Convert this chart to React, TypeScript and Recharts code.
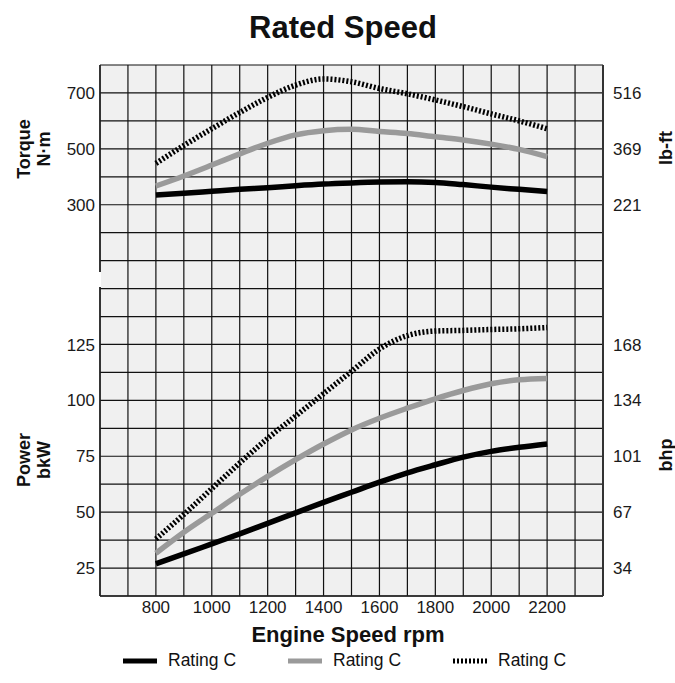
import React from 'react';
import { LineChart, Line, XAxis, YAxis, CartesianGrid, Legend } from 'recharts';

// Engine speed (rpm)
const rpm = [800, 900, 1000, 1100, 1200, 1300, 1400, 1500, 1600, 1700, 1800, 1900, 2000, 2100, 2200];
// Torque N·m
const torqueBlack = [335, 341, 348, 355, 361, 368, 374, 378, 381, 382, 380, 372, 363, 355, 347];
const torqueGrey = [367, 403, 442, 482, 520, 550, 565, 570, 562, 555, 543, 532, 517, 498, 472];
const torqueDotted = [448, 512, 572, 630, 684, 728, 750, 740, 716, 697, 675, 651, 625, 600, 572];
// Power kW
const powerBlack = [26.9, 31.3, 35.8, 40.3, 45, 49.7, 54.4, 58.9, 63.4, 67.6, 71.2, 74.6, 77.2, 79, 80.5];
const powerGrey = [31.6, 41, 49.5, 58, 66, 73.5, 80.5, 86.8, 92, 96.5, 100.7, 104.4, 107.4, 109.2, 109.8];
const powerDotted = [38, 49, 60.5, 72, 83, 93, 103, 113, 123, 129, 131, 131.3, 131.7, 132, 132.6];

// Tick labels
const xLabels = [800, 1000, 1200, 1400, 1600, 1800, 2000, 2200];
const torqueLabels = [300, 500, 700];
const lbftLabels = ['221', '369', '516'];
const powerLabels = [25, 50, 75, 100, 125];
const bhpLabels = ['34', '67', '101', '134', '168'];
const legendNames = ['Rating C', 'Rating C', 'Rating C'];

// Axis ranges (grid: 18 columns x 19 rows)
const xDomain: [number, number] = [600, 2400];
const torqueDomain: [number, number] = [-1100, 800];
const powerDomain: [number, number] = [12.5, 250];

const xGridTicks: number[] = [];
for (let v = xDomain[0]; v <= xDomain[1]; v += 100) xGridTicks.push(v);
const tqGridTicks: number[] = [];
for (let v = torqueDomain[0]; v <= torqueDomain[1]; v += 100) tqGridTicks.push(v);
const tqMinorTicks: number[] = [];
for (let v = torqueDomain[0] + 50; v < torqueDomain[1]; v += 100) {
  if (v !== 50) tqMinorTicks.push(v);
}

const data = rpm.map((r, i) => ({
  rpm: r,
  tqB: torqueBlack[i],
  tqG: torqueGrey[i],
  tqD: torqueDotted[i],
  pwB: powerBlack[i],
  pwG: powerGrey[i],
  pwD: powerDotted[i],
}));

const FONT = 'Arial, "Liberation Sans", Helvetica, sans-serif';
const BLACK = '#000000';
const GREY = '#9a9a9a';
const GRID = '#111111';
const tickStyle = { fontSize: 17, fill: '#1a1a1a', fontFamily: FONT };
const margin = { top: 65, right: 22, bottom: 47, left: 40 };
const W = 675;
const H = 683;

const renderLegend = (props: any) => {
  const payload = props.payload || [];
  return (
    <div style={{ display: 'flex', fontFamily: FONT }}>
      {payload.map((e: any, i: number) => (
        <div key={i} style={{ display: 'flex', alignItems: 'center', width: 165 }}>
          <svg width={34} height={10} style={{ display: 'block' }}>
            <line x1={0} y1={5} x2={34} y2={5} stroke={e.color} strokeWidth={5}
              strokeDasharray={e.payload && e.payload.strokeDasharray} />
          </svg>
          <span style={{ marginLeft: 11, fontSize: 17.5, color: '#111' }}>{e.value}</span>
        </div>
      ))}
    </div>
  );
};

const rotStyle = (cx: number, cy: number, fs: number): React.CSSProperties => ({
  position: 'absolute',
  left: cx,
  top: cy,
  transform: 'translate(-50%, -50%) rotate(-90deg)',
  fontFamily: FONT,
  fontWeight: 'bold',
  fontSize: fs,
  lineHeight: '20px',
  textAlign: 'center',
  whiteSpace: 'nowrap',
  color: '#111',
});

export default function App() {
  return (
    <div style={{ position: 'absolute', left: 0, top: 0, width: W, height: H, background: '#fff', overflow: 'hidden' }}>
      <div style={{ position: 'absolute', left: 0, top: 0 }}>
        <LineChart width={W} height={H} data={data} margin={margin}>
          <CartesianGrid xAxisId="x" yAxisId="tq" fill="#f0f0f0" stroke={GRID} strokeWidth={1.2} />
          <XAxis xAxisId="x" dataKey="rpm" type="number" domain={xDomain} ticks={xGridTicks} interval={0}
            allowDataOverflow height={40} tickLine={false} tickSize={0} tickMargin={5}
            axisLine={{ stroke: '#222', strokeWidth: 1.5 }} tick={tickStyle}
            tickFormatter={(v: number) => (xLabels.includes(v) ? String(v) : '')} />
          <YAxis yAxisId="minor" orientation="left" mirror type="number" domain={torqueDomain}
            ticks={tqMinorTicks} interval={0} allowDataOverflow axisLine={false}
            tickLine={{ stroke: GRID, strokeWidth: 1.2 }} tickSize={8} tick={false} width={0} />
          <YAxis yAxisId="tq" orientation="left" type="number" domain={torqueDomain} ticks={tqGridTicks}
            interval={0} allowDataOverflow width={60} tickLine={false} tickSize={0} tickMargin={5}
            axisLine={{ stroke: '#222', strokeWidth: 1.5 }} tick={tickStyle}
            tickFormatter={(v: number) => (torqueLabels.includes(v) ? String(v) : '')} />
          <YAxis yAxisId="tqR" orientation="right" type="number" domain={torqueDomain} ticks={tqGridTicks}
            interval={0} allowDataOverflow width={50} tickLine={false} tickSize={0} tickMargin={10}
            axisLine={{ stroke: '#333', strokeWidth: 2 }} tick={{ ...tickStyle, textAnchor: 'start' }}
            tickFormatter={(v: number) => {
              const k = torqueLabels.indexOf(v);
              return k >= 0 ? lbftLabels[k] : '';
            }} />
          <Line xAxisId="x" yAxisId="tq" dataKey="tqB" name={legendNames[0]} type="monotone" stroke={BLACK}
            strokeWidth={5.5} dot={false} isAnimationActive={false} />
          <Line xAxisId="x" yAxisId="tq" dataKey="tqG" name={legendNames[1]} type="monotone" stroke={GREY}
            strokeWidth={5.5} dot={false} isAnimationActive={false} />
          <Line xAxisId="x" yAxisId="tq" dataKey="tqD" name={legendNames[2]} type="monotone" stroke={BLACK}
            strokeWidth={5.5} strokeDasharray="2 2" dot={false} isAnimationActive={false} />
          <Legend verticalAlign="middle" align="center" layout="horizontal" content={renderLegend}
            wrapperStyle={{ top: 650, left: 123, width: 520, height: 20 }} />
        </LineChart>
      </div>
      <div style={{ position: 'absolute', left: 0, top: 0 }}>
        <LineChart width={W} height={H} data={data} margin={margin}>
          <XAxis xAxisId="x" dataKey="rpm" type="number" domain={xDomain} ticks={xGridTicks} allowDataOverflow
            height={40} tick={false} tickLine={false} axisLine={false} />
          <YAxis yAxisId="pw" orientation="left" type="number" domain={powerDomain} ticks={powerLabels}
            interval={0} allowDataOverflow width={60} tickLine={false} tickSize={0} tickMargin={5}
            axisLine={false} tick={tickStyle} />
          <YAxis yAxisId="pwR" orientation="right" type="number" domain={powerDomain} ticks={powerLabels}
            interval={0} allowDataOverflow width={50} tickLine={false} tickSize={0} tickMargin={10}
            axisLine={false} tick={{ ...tickStyle, textAnchor: 'start' }}
            tickFormatter={(v: number) => bhpLabels[powerLabels.indexOf(v)] || ''} />
          <Line xAxisId="x" yAxisId="pw" dataKey="pwB" name={legendNames[0]} type="monotone" stroke={BLACK}
            strokeWidth={5.5} dot={false} isAnimationActive={false} />
          <Line xAxisId="x" yAxisId="pw" dataKey="pwG" name={legendNames[1]} type="monotone" stroke={GREY}
            strokeWidth={5.5} dot={false} isAnimationActive={false} />
          <Line xAxisId="x" yAxisId="pw" dataKey="pwD" name={legendNames[2]} type="monotone" stroke={BLACK}
            strokeWidth={5.5} strokeDasharray="2 2" dot={false} isAnimationActive={false} />
        </LineChart>
      </div>
      {/* small break in the left frame between the two panels */}
      <div style={{ position: 'absolute', left: 98, top: 272, width: 3, height: 15, background: '#fff' }} />
      <div style={{ position: 'absolute', left: 343, top: 12, transform: 'translateX(-50%)', fontFamily: FONT,
        fontWeight: 'bold', fontSize: 31, lineHeight: '31px', whiteSpace: 'nowrap', color: '#111' }}>
        Rated Speed
      </div>
      <div style={{ position: 'absolute', left: 348, top: 624, transform: 'translateX(-50%)', fontFamily: FONT,
        fontWeight: 'bold', fontSize: 22, lineHeight: '22px', whiteSpace: 'nowrap', color: '#111' }}>
        Engine Speed rpm
      </div>
      <div style={rotStyle(34, 149, 18)}>Torque<br />N·m</div>
      <div style={rotStyle(34, 460, 18)}>Power<br />bkW</div>
      <div style={rotStyle(666, 148, 18)}>lb-ft</div>
      <div style={rotStyle(666, 455, 18)}>bhp</div>
    </div>
  );
}
